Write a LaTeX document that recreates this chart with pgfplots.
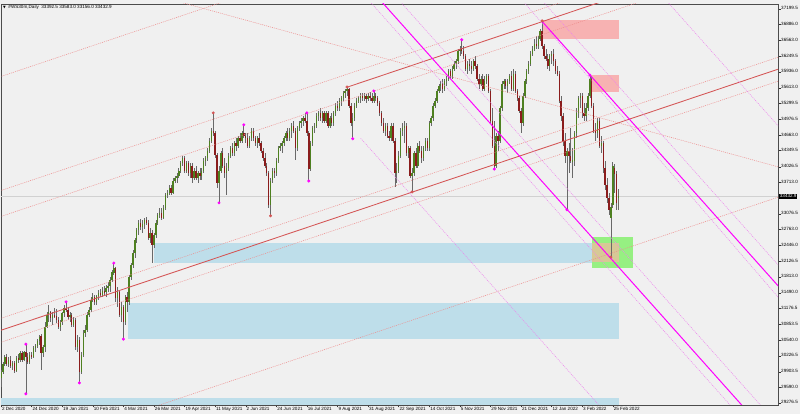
\documentclass[border=0pt]{standalone}
\usepackage{fontspec}
\setmainfont{Liberation Sans}
\newfontfamily\dejavu{DejaVu Sans}
\usepackage{pgfplots}
\usepackage{pgfplotstable}
\pgfplotsset{compat=1.18}

\definecolor{bg}{RGB}{240,240,240}
\definecolor{bull}{RGB}{78,128,32}
\definecolor{bear}{RGB}{138,28,28}
\definecolor{wick}{RGB}{105,105,105}
\definecolor{chred}{RGB}{212,85,85}
\definecolor{chreddot}{RGB}{238,140,140}
\definecolor{mag}{RGB}{255,0,255}
\definecolor{magdot}{RGB}{238,130,238}
\definecolor{pinkbox}{RGB}{247,178,178}
\definecolor{bluebox}{RGB}{190,222,234}
\definecolor{greenbox}{RGB}{150,240,130}
\definecolor{tanbox}{RGB}{215,200,150}

\pgfplotstableread{
i o h l c
0 29780 29930 29600 29900
1 29900 30100 29850 30060
2 30060 30250 30020 30200
3 30200 30260 30020 30060
4 30060 30200 30000 30150
5 30150 30220 29980 30020
6 30020 30120 29930 30080
7 30080 30130 29880 29920
8 29920 30220 29900 30180
9 30180 30260 30080 30140
10 30140 30320 30100 30280
11 30280 30320 30110 30150
12 30150 30330 30120 30300
13 30300 30460 29460 30200
14 30200 30280 30060 30100
15 30100 30300 30050 30250
16 30250 30310 30160 30200
17 30200 30420 30180 30380
18 30380 30460 30300 30420
19 30420 30560 30380 30530
20 30530 30640 30450 30600
21 30620 30660 29940 30280
22 30280 30450 30200 30400
23 30400 30900 30300 30800
24 30800 31100 30780 31050
25 31050 31250 30900 31100
26 31100 31130 30900 30980
27 30980 31100 30850 31050
28 31050 31180 30980 31020
29 31020 31160 30880 30950
30 30950 31000 30760 30800
31 30800 30950 30720 30900
32 30900 31100 30850 31080
33 31080 31250 31000 31180
34 31180 31310 31100 31150
35 31150 31200 30950 31000
36 31000 31100 30900 31050
37 31050 31080 30800 30850
38 30850 31000 30800 30950
39 30950 30980 30350 30400
40 30400 30650 30300 30550
41 30550 30600 29680 29900
42 29900 30300 29850 30250
43 30250 30750 30200 30680
44 30680 30850 30600 30750
45 30750 31100 30700 31050
46 31050 31200 31000 31150
47 31150 31400 31100 31350
48 31350 31480 31300 31400
49 31400 31450 31250 31300
50 31300 31450 31250 31420
51 31420 31550 31350 31480
52 31480 31560 31400 31450
53 31450 31600 31400 31520
54 31520 31620 31450 31500
55 31500 31650 31400 31580
56 31580 31700 31500 31620
57 31620 31800 31500 31750
58 31750 31950 31700 31900
59 31900 32090 31850 32000
60 32000 32020 31300 31380
61 31380 31600 31200 31500
62 31500 31550 31000 31050
63 31050 31300 30900 31200
64 31200 31250 30560 30900
65 30900 31450 30850 31400
66 31400 31500 31100 31300
67 31300 31850 31250 31800
68 31800 32100 31750 32050
69 32050 32350 32000 32300
70 32300 32600 32200 32550
71 32550 32800 32500 32750
72 32750 32950 32650 32900
73 32900 32980 32750 32820
74 32820 32950 32700 32880
75 32880 33000 32780 32950
76 32950 33020 32850 32900
77 32900 32950 32550 32600
78 32600 32800 32500 32700
79 32700 32750 32100 32450
80 32450 32700 32400 32650
81 32650 32950 32600 32900
82 32900 33100 32850 33050
83 33050 33200 33000 33100
84 33100 33200 32950 33000
85 33000 33250 32980 33200
86 33200 33500 33150 33450
87 33450 33550 33400 33500
88 33500 33650 33450 33600
89 33600 33650 33450 33500
90 33500 33800 33480 33750
91 33750 33850 33700 33800
92 33800 33900 33700 33850
93 33850 34000 33800 33950
94 33950 34150 33900 34100
95 34100 34250 34050 34200
96 34200 34250 33900 33950
97 33950 34150 33900 34100
98 34100 34150 33850 33900
99 33900 34100 33800 34050
100 34050 34100 33700 33800
101 33800 34000 33750 33950
102 33950 34050 33750 33800
103 33800 33950 33700 33900
104 33900 34000 33750 33850
105 33850 34000 33750 33950
106 33950 34200 33900 34150
107 34150 34250 34050 34200
108 34200 34400 34150 34350
109 34350 34600 34300 34550
110 34550 34800 34500 34750
111 34750 35110 34650 34700
112 34700 34750 34200 34270
113 34270 34300 33600 33700
114 33700 34050 33300 33950
115 33950 34350 33900 34300
116 34300 34400 34000 34050
117 34050 34200 33800 33900
118 33900 34100 33450 34000
119 34000 34300 33950 34250
120 34250 34450 34200 34400
121 34400 34500 34250 34300
122 34300 34550 34250 34500
123 34500 34600 34350 34450
124 34450 34650 34400 34600
125 34600 34700 34500 34550
126 34550 34750 34500 34700
127 34700 34870 34600 34650
128 34650 34700 34500 34600
129 34600 34700 34400 34450
130 34450 34650 34400 34600
131 34600 34800 34550 34750
132 34750 34800 34550 34600
133 34600 34650 34450 34500
134 34500 34650 34400 34600
135 34600 34700 34450 34500
136 34500 34550 34300 34350
137 34350 34400 34150 34200
138 34200 34300 34000 34050
139 34050 34100 33850 33900
140 33900 33950 33200 33250
141 33250 33800 33040 33750
142 33750 34000 33700 33950
143 33950 34000 33800 33900
144 33900 34200 33850 34150
145 34150 34450 34100 34400
146 34400 34500 34350 34450
147 34450 34550 34300 34500
148 34500 34650 34450 34600
149 34600 34750 34550 34700
150 34700 34800 34550 34600
151 34600 34800 34550 34750
152 34750 34900 34600 34850
153 34850 34950 34700 34750
154 34750 34800 34170 34400
155 34400 34850 34350 34800
156 34800 34950 34750 34900
157 34900 35000 34800 34950
158 34950 35050 34850 35000
159 35000 35100 34900 34950
160 34950 35110 34650 34700
161 34700 34750 33740 33980
162 33980 34550 33950 34500
163 34500 34850 34450 34800
164 34800 34900 34700 34850
165 34850 35100 34800 35050
166 35050 35150 34950 35100
167 35100 35200 34950 35000
168 35000 35150 34900 35100
169 35100 35150 34900 34950
170 34950 35150 34900 35100
171 35100 35150 34800 34850
172 34850 35050 34800 35000
173 35000 35100 34850 34900
174 34900 35150 34850 35100
175 35100 35300 35050 35250
176 35250 35350 35150 35200
177 35200 35400 35150 35350
178 35350 35450 35250 35400
179 35400 35550 35350 35500
180 35500 35600 35400 35550
181 35550 35630 35450 35600
182 35600 35620 35200 35250
183 35250 35300 34850 34900
184 34900 35100 34590 35000
185 35000 35300 34950 35250
186 35250 35400 35200 35350
187 35350 35450 35300 35400
188 35400 35500 35300 35450
189 35450 35500 35350 35400
190 35400 35500 35350 35450
191 35450 35480 35300 35380
192 35380 35500 35350 35450
193 35450 35520 35350 35400
194 35400 35500 35300 35350
195 35350 35550 35300 35450
196 35450 35500 35350 35400
197 35400 35450 35250 35300
198 35300 35350 35050 35100
199 35100 35150 34850 34900
200 34900 35000 34700 34750
201 34750 34900 34650 34850
202 34850 34900 34600 34650
203 34650 34750 34550 34600
204 34600 34900 34550 34850
205 34850 34900 34500 34550
206 34550 34600 33620 33900
207 33900 34100 33700 33950
208 33950 34350 33900 34250
209 34250 34800 34200 34750
210 34750 34900 34650 34800
211 34800 34950 34500 34850
212 34850 34900 34250 34300
213 34300 34450 34200 34400
214 34400 34450 33800 33850
215 33850 34000 33520 33900
216 33900 34350 33850 34300
217 34300 34400 34000 34050
218 34050 34500 34000 34450
219 34450 34550 34300 34350
220 34350 34450 34100 34200
221 34200 34450 34150 34400
222 34400 34600 34350 34550
223 34550 34600 34350 34400
224 34400 34950 34350 34900
225 34900 35050 34850 35000
226 35000 35300 34950 35250
227 35250 35400 35200 35350
228 35350 35600 35300 35550
229 35550 35700 35500 35650
230 35650 35750 35550 35700
231 35700 35800 35500 35600
232 35600 35800 35550 35750
233 35750 35850 35650 35800
234 35800 36000 35750 35950
235 35950 36000 35800 35850
236 35850 36050 35800 36000
237 36000 36150 35950 36100
238 36100 36200 36000 36150
239 36150 36400 36100 36350
240 36350 36450 36250 36400
241 36400 36580 36300 36350
242 36350 36450 36200 36250
243 36250 36300 35950 36000
244 36000 36150 35900 36100
245 36100 36200 35950 36050
246 36050 36150 35900 36000
247 36000 36200 35950 36150
248 36150 36250 36000 36050
249 36050 36100 35750 35800
250 35800 35900 35600 35700
251 35700 35850 35650 35800
252 35800 35900 35550 35600
253 35600 35850 35550 35750
254 35750 35900 35700 35850
255 35850 35900 35500 35550
256 35550 35600 34900 34950
257 34950 35200 34400 34450
258 34450 34950 33980 34050
259 34050 34700 34000 34650
260 34650 34750 34350 34550
261 34550 35250 34500 35200
262 35200 35750 35150 35700
263 35700 35800 35600 35750
264 35750 35800 35600 35650
265 35650 35800 35500 35750
266 35750 35900 35700 35850
267 35850 35950 35550 35600
268 35600 36000 35550 35900
269 35900 35950 35500 35550
270 35550 35600 35350 35400
271 35400 35450 35100 35150
272 35150 35200 34700 34900
273 34900 35500 34850 35450
274 35450 35800 35400 35750
275 35750 36000 35700 35950
276 35950 36150 35900 36100
277 36100 36350 36050 36300
278 36300 36450 36250 36400
279 36400 36600 36350 36500
280 36500 36650 36400 36450
281 36450 36650 36400 36600
282 36600 36800 36550 36750
283 36750 36960 36400 36450
284 36450 36500 36200 36250
285 36250 36400 36150 36200
286 36200 36300 36000 36050
287 36050 36300 35950 36250
288 36250 36350 36100 36300
289 36300 36400 36050 36150
290 36150 36200 35900 35950
291 35950 36050 35850 35900
292 35900 35950 35300 35350
293 35350 35450 34950 35050
294 35050 35100 34450 34550
295 34550 34700 34100 34250
296 34250 34400 33160 34350
297 34350 34500 33900 34250
298 34250 34800 34100 34150
299 34150 34400 33800 34150
300 34150 34750 34050 34700
301 34700 35200 34600 35100
302 35100 35450 35000 35400
303 35400 35500 35200 35450
304 35450 35500 35000 35100
305 35100 35300 34950 35050
306 35050 35300 34950 35200
307 35200 35500 35150 35450
308 35450 35870 35400 35800
309 35800 35850 35200 35250
310 35250 35300 34700 34750
311 34750 34900 34550 34700
312 34700 35000 34600 34950
313 34950 35000 34400 34450
314 34450 34650 34300 34500
315 34500 34550 33900 34000
316 34000 34150 33550 33650
317 33650 33800 33300 33400
318 33400 33500 33050 33150
319 33000 33300 32210 33220
320 33250 34120 33200 34050
321 34000 34080 33500 33880
322 33880 33950 33150 33300
323 33392.5 33583 33156 33432.9
}\candles

\begin{document}
\begin{tikzpicture}
\useasboundingbox (0,0) rectangle (800pt,414pt);
\fill[bg] (0,0) rectangle (800pt,414pt);
\begin{axis}[
  at={(1pt,9pt)}, anchor=south west,
  scale only axis, width=777pt, height=401pt,
  xmin=0, xmax=406.4, ymin=29235.5, ymax=37299.6,
  axis background/.style={fill=bg},
  axis line style={draw=black!70, line width=0.5pt},
  tick align=outside, major tick length=2.5pt,
  tick style={black!80, line width=0.4pt},
  xtick pos=left, ytick pos=right,
  xticklabel pos=left, yticklabel pos=right,
  xtick={0,16,...,320},
  xticklabels={2 Dec 2020, 24 Dec 2020, 19 Jan 2021, 10 Feb 2021, 4 Mar 2021, 26 Mar 2021, 19 Apr 2021, 11 May 2021, 2 Jun 2021, 24 Jun 2021, 16 Jul 2021, 9 Aug 2021, 31 Aug 2021, 22 Sep 2021, 14 Oct 2021, 5 Nov 2021, 29 Nov 2021, 21 Dec 2021, 12 Jan 2022, 3 Feb 2022, 25 Feb 2022},
  typeset ticklabels with strut,
  xticklabel style={anchor=north west, font=\fontsize{4.6}{5}\selectfont, inner sep=0pt, text height=3.4pt, text depth=1pt, xshift=0.8pt, yshift=1pt},
  ytick={29276.5,29590.0,29903.5,30226.5,30540.0,30853.5,31176.5,31490.0,31813.0,32126.5,32446.0,32763.0,33076.5,33713.0,34026.5,34349.5,34663.0,34976.5,35299.5,35613.0,35936.0,36249.5,36563.0,36886.0,37199.5},
  yticklabels={29276.5,29590.0,29903.5,30226.5,30540.0,30853.5,31176.5,31490.0,31813.0,32126.5,32446.0,32763.0,33076.5,33713.0,34026.5,34349.5,34663.0,34976.5,35299.5,35613.0,35936.0,36249.5,36563.0,36886.0,37199.5},
  yticklabel style={anchor=west, font=\fontsize{4.6}{5}\selectfont, inner sep=0pt, xshift=0.5pt},
  unbounded coords=discard,
  clip=true,
]
% background zones
\fill[pinkbox] (axis cs:282.8,36978) rectangle (axis cs:323.1,36596);
\fill[pinkbox] (axis cs:308.4,35872) rectangle (axis cs:323.1,35530);
\fill[bluebox] (axis cs:79.9,32493) rectangle (axis cs:323.1,32091);
\fill[bluebox] (axis cs:66.3,31287) rectangle (axis cs:323.1,30563);
\fill[bluebox] (axis cs:0,29376) rectangle (axis cs:323.1,29000);
\fill[greenbox] (axis cs:309,32614) rectangle (axis cs:330.4,31991);
\fill[tanbox] (axis cs:309,32493) rectangle (axis cs:323.1,32111);
% bid line
\addplot[forget plot, black!18, line width=0.5pt] coordinates {(0,33432.9) (406.4,33432.9)};
% wicks
\addplot[forget plot, draw=none, mark=none, error bars/.cd, y dir=both, y explicit, error mark=none,
  error bar style={draw=wick, line width=0.65pt}]
  table[x=i, y expr={(\thisrow{h}+\thisrow{l})/2}, y error expr={(\thisrow{h}-\thisrow{l})/2}] {\candles};
% bull bodies
\addplot[forget plot, draw=none, mark=none, error bars/.cd, y dir=both, y explicit, error mark=none,
  error bar style={draw=bull, line width=1.4pt}]
  table[x=i, y expr={\thisrow{c}>=\thisrow{o} ? (\thisrow{o}+\thisrow{c})/2 : nan}, y error expr={max(abs(\thisrow{c}-\thisrow{o})/2,8)}] {\candles};
% bear bodies
\addplot[forget plot, draw=none, mark=none, error bars/.cd, y dir=both, y explicit, error mark=none,
  error bar style={draw=bear, line width=1.4pt}]
  table[x=i, y expr={\thisrow{c}<\thisrow{o} ? (\thisrow{o}+\thisrow{c})/2 : nan}, y error expr={max(abs(\thisrow{c}-\thisrow{o})/2,8)}] {\candles};
% red channel lines
\addplot[forget plot, chred, line width=0.85pt] coordinates {(-10.6,30601) (428.7,36276)};
\addplot[forget plot, chred, line width=0.85pt] coordinates {(181.3,35630) (428.7,38826)};
\addplot[forget plot, chreddot, line width=0.5pt, dash pattern=on 1pt off 1pt] coordinates {(-10.6,30842) (428.7,36517)};
\addplot[forget plot, chreddot, line width=0.5pt, dash pattern=on 1pt off 1pt] coordinates {(-10.6,30360) (428.7,36035)};
\addplot[forget plot, chreddot, line width=0.5pt, dash pattern=on 1pt off 1pt] coordinates {(-10.6,33412) (428.7,39087)};
\addplot[forget plot, chreddot, line width=0.5pt, dash pattern=on 1pt off 1pt] coordinates {(-10.6,32890) (428.7,38565)};
\addplot[forget plot, chreddot, line width=0.5pt, dash pattern=on 1pt off 1pt] coordinates {(-10.6,35705) (428.7,41380)};
\addplot[forget plot, chreddot, line width=0.5pt, dash pattern=on 1pt off 1pt] coordinates {(-10.6,28027) (428.7,33702)};
\addplot[forget plot, chreddot, line width=0.5pt, dash pattern=on 1pt off 1pt] coordinates {(-10.6,38444) (428.7,33788)};
% magenta channel lines
\addplot[forget plot, mag, line width=1pt] coordinates {(188.1,37818) (397.3,28809)};
\addplot[forget plot, mag, line width=1pt] coordinates {(282.8,36958) (428.7,30673)};
\addplot[forget plot, magdot, line width=0.5pt, dash pattern=on 1pt off 1pt] coordinates {(188.1,37557) (397.3,28548)};
\addplot[forget plot, magdot, line width=0.5pt, dash pattern=on 1pt off 1pt] coordinates {(188.1,38240) (397.3,29231)};
\addplot[forget plot, magdot, line width=0.5pt, dash pattern=on 1pt off 1pt] coordinates {(261.3,37881) (428.7,30412)};
\addplot[forget plot, magdot, line width=0.5pt, dash pattern=on 1pt off 1pt] coordinates {(261.3,38303) (428.7,31095)};
\addplot[forget plot, magdot, line width=0.5pt, dash pattern=on 1pt off 1pt] coordinates {(188.1,34600) (397.3,25591)};
\addplot[forget plot, magdot, line width=0.5pt, dash pattern=on 1pt off 1pt] coordinates {(313.7,38846) (428.7,33891)};
% fractal dots
\addplot[forget plot, only marks, mark=*, mark size=1.3pt, mag] coordinates {
(13,30460) (13,29460) (34,31310) (41,29680) (59,32090) (64,30560) (114,33300) (127,34870)
(160,35110) (161,33740) (184,34590) (195,35550) (241,36580) (258,33980) (296,33160) (308,35870)};
\addplot[forget plot, only marks, mark=*, mark size=1.3pt, chred] coordinates {
(111,35110) (141,33040) (181,35630) (215,33520) (283,36960) (319,32210)};
\coordinate (cp) at (axis cs:406.4,33432.9);
\end{axis}
\node[fill=black, text=white, inner sep=0.7pt, anchor=west, font=\fontsize{4.6}{5}\selectfont] at ([xshift=1pt]cp) {33432.9};
\node[anchor=base west, inner sep=0pt, font=\fontsize{4.6}{5}\selectfont] at (3pt,405pt) {{\dejavu\fontsize{3.5}{4}\selectfont ▼}\ \ \#WS30m,Daily\ \ 33392.5 33583.0 33156.0 33432.9};
\end{tikzpicture}
\end{document}
